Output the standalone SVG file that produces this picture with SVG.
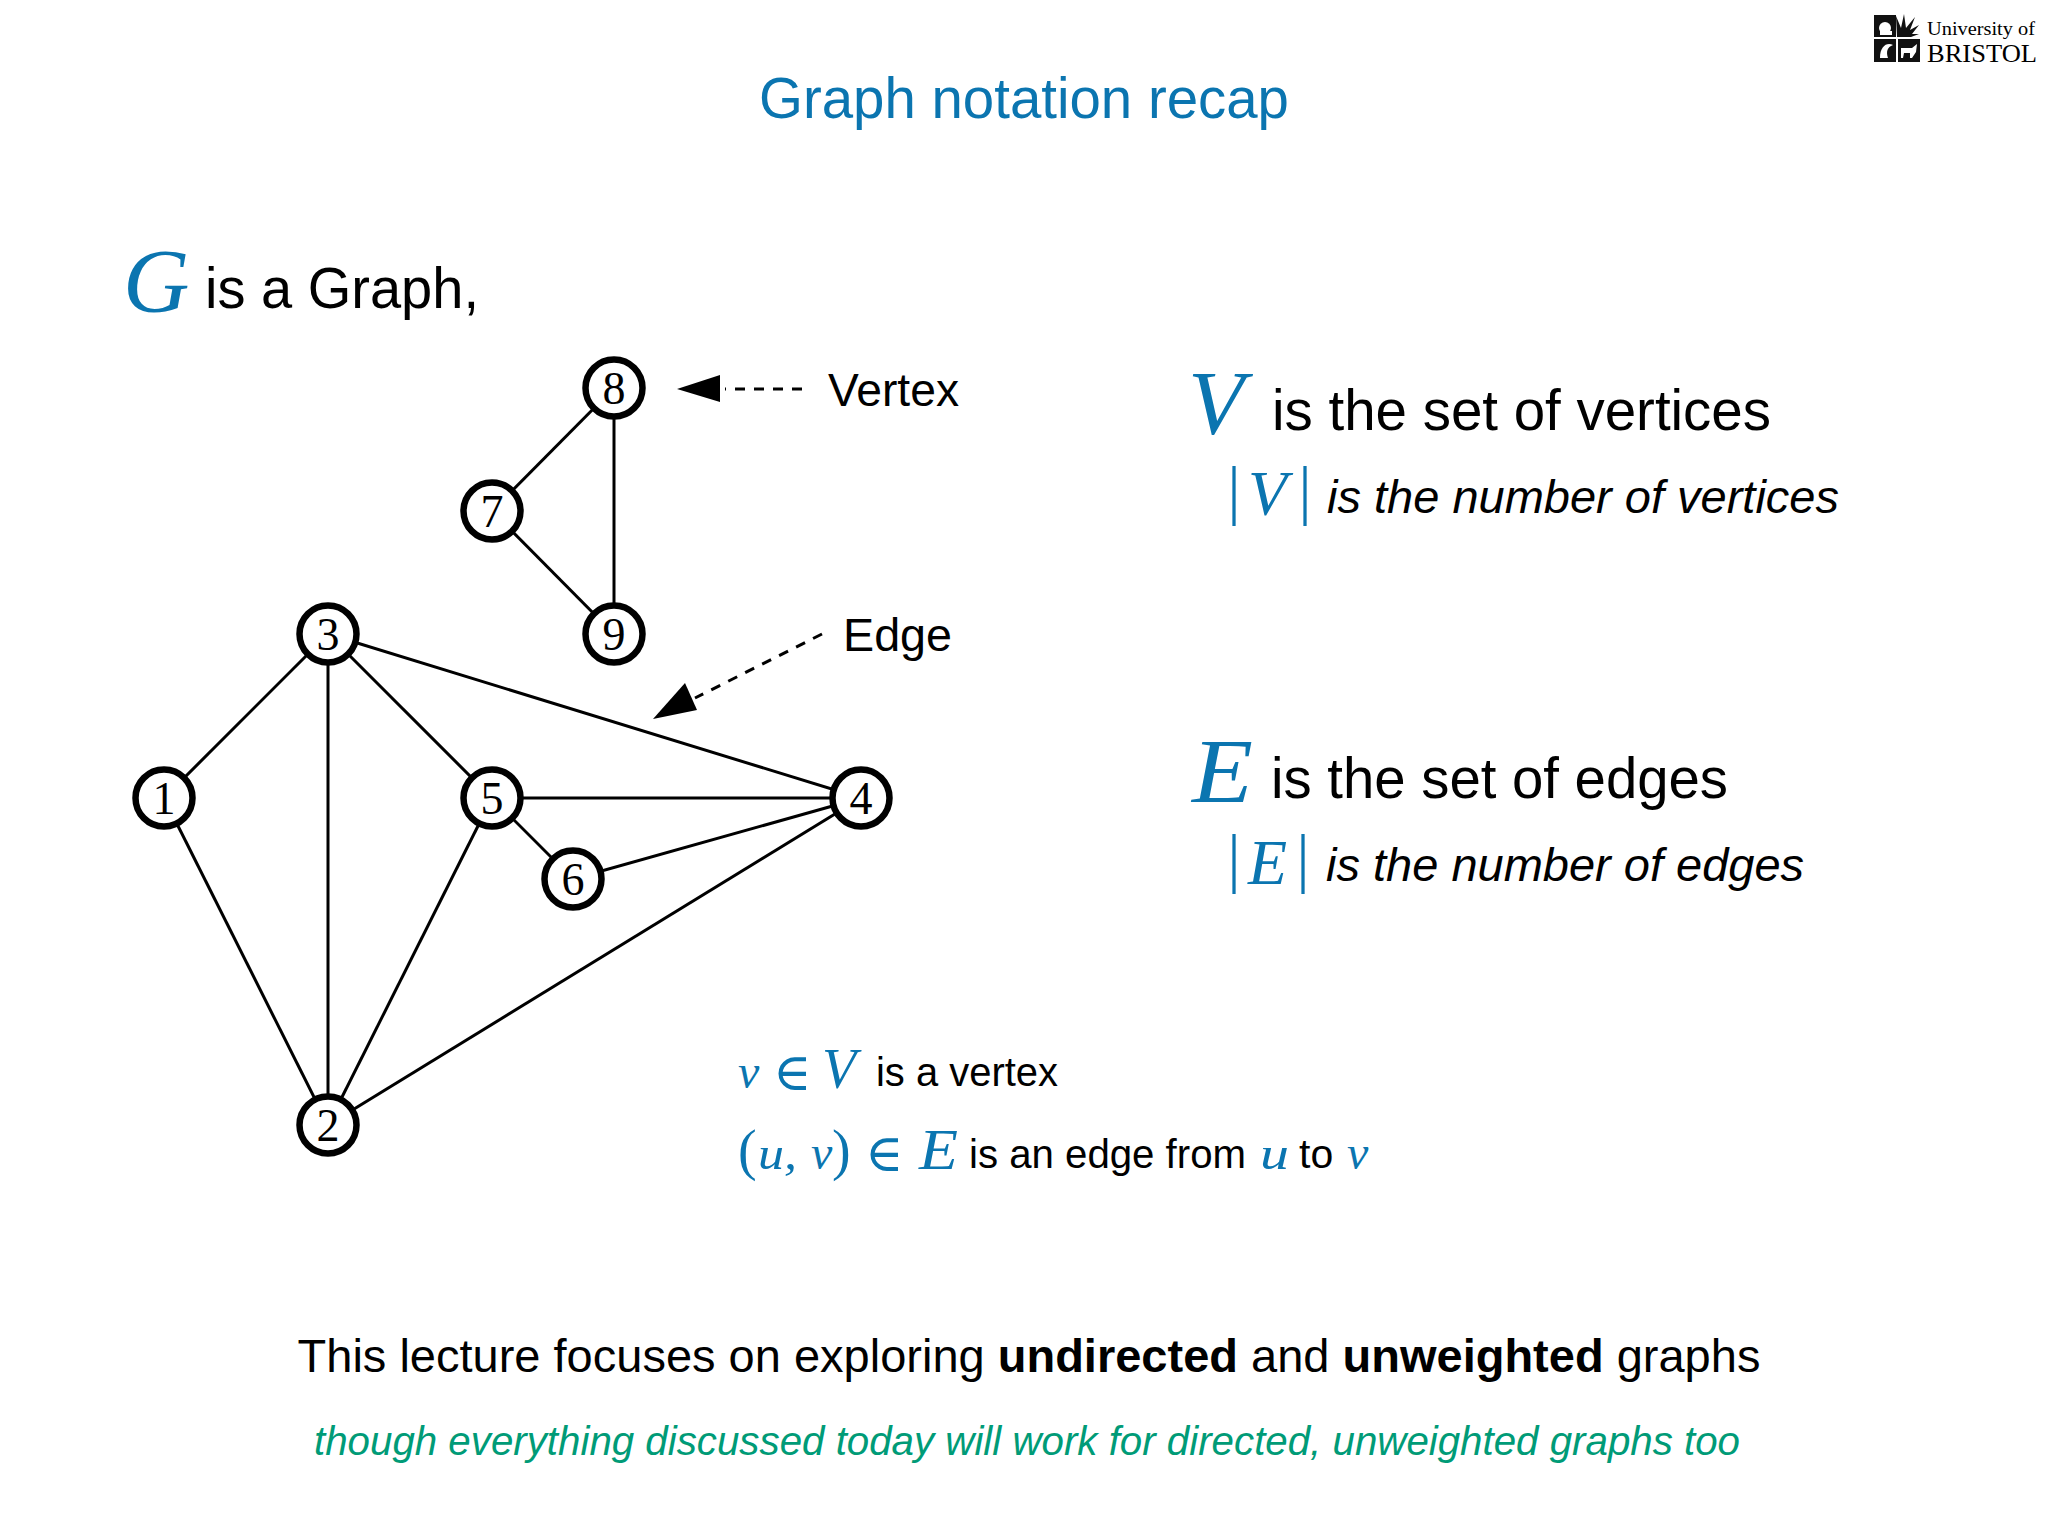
<svg xmlns="http://www.w3.org/2000/svg" width="2048" height="1536" viewBox="0 0 2048 1536">
<style>
text{font-family:"Liberation Sans",Arial,sans-serif;fill:#000}
.m{font-family:"Liberation Serif","Times New Roman",serif;font-style:italic;fill:#0b75b0}
.r{font-family:"Liberation Serif","DejaVu Serif",serif;font-style:normal;fill:#0b75b0}
.s{font-family:"DejaVu Serif",serif;font-style:normal;fill:#0b75b0}
.n{font-family:"Liberation Serif",serif;font-size:46px;text-anchor:middle}
.l{font-family:"Liberation Serif",serif}
.v circle{fill:#fff;stroke:#000;stroke-width:6.5}
.e line{stroke:#000;stroke-width:3}
.d{stroke:#000;stroke-width:3;stroke-dasharray:10 9;fill:none}
</style>
<rect width="2048" height="1536" fill="#fff"/>
<g id="logo">
<path d="M1874 15h22v22h-22zM1874 39h22v23h-22zM1898 39h22v23h-22z" fill="#111"/>
<path d="M1897 37l-1-21 5 12 3-14 2 14 9-11-5 13 9-5-7 9h7l-8 3z" fill="#111"/>
<circle cx="1885" cy="28" r="6" fill="#fff"/><rect x="1880" y="31" width="12" height="4" fill="#fff"/>
<path d="M1880 58c0-12 7-16 13-13-6 2-7 7-5 13z" fill="#fff"/>
<path d="M1901 48h11l5-4-1 8-4 6h-2v-5h-6l-1 5h-2z" fill="#fff"/>
<text class="l" x="1927" y="35" font-size="19" fill="#222" textLength="108" lengthAdjust="spacingAndGlyphs">University of</text>
<text class="l" x="1927" y="62" font-size="26" textLength="110" lengthAdjust="spacingAndGlyphs">BRISTOL</text>
</g>
<text id="title" x="759" y="118" font-size="58" textLength="530" lengthAdjust="spacingAndGlyphs" style="fill:#0b75b0">Graph notation recap</text>
<g id="graph-caption">
<text class="m" x="123" y="312" font-size="92">G</text>
<text x="205" y="308" font-size="58" textLength="274" lengthAdjust="spacingAndGlyphs">is a Graph,</text>
</g>
<g id="connectors" class="e">
<line x1="614" y1="388" x2="492" y2="511"/>
<line x1="614" y1="388" x2="614" y2="634"/>
<line x1="492" y1="511" x2="614" y2="634"/>
<line x1="328" y1="634" x2="164" y2="798"/>
<line x1="328" y1="634" x2="328" y2="1125"/>
<line x1="328" y1="634" x2="492" y2="798"/>
<line x1="328" y1="634" x2="861" y2="798"/>
<line x1="164" y1="798" x2="328" y2="1125"/>
<line x1="492" y1="798" x2="328" y2="1125"/>
<line x1="492" y1="798" x2="861" y2="798"/>
<line x1="492" y1="798" x2="573" y2="879"/>
<line x1="573" y1="879" x2="861" y2="798"/>
<line x1="328" y1="1125" x2="861" y2="798"/>
</g>
<g id="annotations">
<path class="d" d="M802 389H725"/>
<path d="M677 389l43-14v27z" fill="#000"/>
<path class="d" d="M822 634L695 698"/>
<path d="M653 719l32-36 12 27z" fill="#000"/>
<text x="828" y="406" font-size="47" textLength="131" lengthAdjust="spacingAndGlyphs">Vertex</text>
<text x="843" y="651" font-size="47" textLength="109" lengthAdjust="spacingAndGlyphs">Edge</text>
</g>
<g class="v">
<g id="node-1"><circle cx="164" cy="798" r="28.500"/><text class="n" x="164" y="814">1</text></g>
<g id="node-2"><circle cx="328" cy="1125" r="28.500"/><text class="n" x="328" y="1141">2</text></g>
<g id="node-3"><circle cx="328" cy="634" r="28.500"/><text class="n" x="328" y="650">3</text></g>
<g id="node-4"><circle cx="861" cy="798" r="28.500"/><text class="n" x="861" y="814">4</text></g>
<g id="node-5"><circle cx="492" cy="798" r="28.500"/><text class="n" x="492" y="814">5</text></g>
<g id="node-6"><circle cx="573" cy="879" r="28.500"/><text class="n" x="573" y="895">6</text></g>
<g id="node-7"><circle cx="492" cy="511" r="28.500"/><text class="n" x="492" y="527">7</text></g>
<g id="node-8"><circle cx="614" cy="388" r="28.500"/><text class="n" x="614" y="404">8</text></g>
<g id="node-9"><circle cx="614" cy="634" r="28.500"/><text class="n" x="614" y="650">9</text></g>
</g>
<g id="vertices-text">
<text class="m" x="1188" y="434" font-size="92">V</text>
<text x="1272" y="430" font-size="58" textLength="499" lengthAdjust="spacingAndGlyphs">is the set of vertices</text>
<text class="r" x="1227.500" y="512" font-size="65">|</text>
<text class="m" x="1248" y="515" font-size="64">V</text>
<text class="r" x="1298.500" y="512" font-size="65">|</text>
<text x="1327" y="513" font-size="47" font-style="italic">is the number of vertices</text>
</g>
<g id="edges-text">
<text class="m" x="1192" y="802" font-size="92" textLength="61" lengthAdjust="spacingAndGlyphs">E</text>
<text x="1271" y="798" font-size="58" textLength="457" lengthAdjust="spacingAndGlyphs">is the set of edges</text>
<text class="r" x="1227.500" y="880" font-size="65">|</text>
<text class="m" x="1248" y="884" font-size="64">E</text>
<text class="r" x="1296.500" y="880" font-size="65">|</text>
<text x="1326" y="881" font-size="47" font-style="italic">is the number of edges</text>
</g>
<g id="membership">
<text class="m" x="738" y="1088" font-size="48">v</text>
<text class="s" x="773" y="1090" font-size="52">∈</text>
<text class="m" x="822" y="1088" font-size="56">V</text>
<text x="876" y="1086" font-size="41" textLength="182" lengthAdjust="spacingAndGlyphs">is a vertex</text>
<text class="r" x="738" y="1169" font-size="56">(</text>
<text class="m" x="758" y="1169" font-size="46" textLength="39" lengthAdjust="spacingAndGlyphs">u,</text>
<text class="m" x="811" y="1169" font-size="48">v</text>
<text class="r" x="832" y="1169" font-size="56">)</text>
<text class="s" x="865" y="1171" font-size="52">∈</text>
<text class="m" x="919" y="1169" font-size="56" textLength="39" lengthAdjust="spacingAndGlyphs">E</text>
<text x="969" y="1168" font-size="41" textLength="277" lengthAdjust="spacingAndGlyphs">is an edge from</text>
<text class="m" x="1260" y="1169" font-size="46" textLength="29" lengthAdjust="spacingAndGlyphs">u</text>
<text x="1299" y="1168" font-size="41">to</text>
<text class="m" x="1347" y="1169" font-size="48">v</text>
</g>
<g id="footer">
<text x="1029" y="1372" font-size="47" text-anchor="middle">This lecture focuses on exploring <tspan font-weight="bold">undirected</tspan> and <tspan font-weight="bold">unweighted</tspan> graphs</text>
<text x="314" y="1455" font-size="41.500" font-style="italic" textLength="1426" lengthAdjust="spacingAndGlyphs" style="fill:#009b77">though everything discussed today will work for directed, unweighted graphs too</text>
</g>
</svg>
